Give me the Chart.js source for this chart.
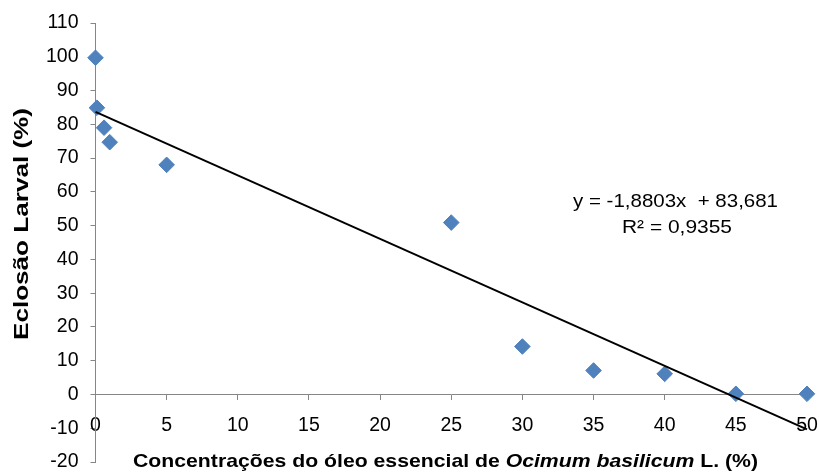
<!DOCTYPE html>
<html>
<head>
<meta charset="utf-8">
<script src="https://cdn.jsdelivr.net/npm/chart.js@4"></script>
<style>
  html, body { margin: 0; padding: 0; background: #fff; }
  #wrap { width: 819px; height: 475px; }
</style>
</head>
<body>
<div id="wrap"><canvas id="myChart"></canvas></div>
<script>
// concentration (%) and larval hatching (%)
const concentracoes = [0, 0.1, 0.6, 1, 5, 25, 30, 35, 40, 45, 50];
const eclosao = [99.7, 84.9, 79, 74.7, 68, 50.9, 14.2, 7.1, 6.1, 0.2, 0.2];

// trendline from the equation shown on the chart
const slope = -1.8803;
const intercept = 83.681;
const trendX = [0, 50];

const xTicks = [0, 5, 10, 15, 20, 25, 30, 35, 40, 45, 50];
const yTicks = [-20, -10, 0, 10, 20, 30, 40, 50, 60, 70, 80, 90, 100, 110];

const FONT = '"Liberation Sans", Arial, sans-serif';
const AXIS_GRAY = '#868686';

const points = concentracoes.map((x, i) => ({ x: x, y: eclosao[i] }));
const trend = trendX.map(x => ({ x: x, y: slope * x + intercept }));

// draw text (possibly in styled parts) stretched to a given width
function drawFitted(ctx, parts, cx, cy, target, rotation) {
  let total = 0;
  parts.forEach(p => { ctx.font = p.font; p.w = ctx.measureText(p.text).width; total += p.w; });
  const sx = target / total;
  ctx.save();
  ctx.translate(cx, cy);
  if (rotation) ctx.rotate(rotation);
  ctx.scale(sx, 1);
  ctx.fillStyle = '#000';
  ctx.textBaseline = 'middle';
  ctx.textAlign = 'left';
  let x = -total / 2;
  parts.forEach(p => { ctx.font = p.font; ctx.fillText(p.text, x, 0); x += p.w; });
  ctx.restore();
}

const labelsPlugin = {
  id: 'labels',
  afterDraw(chart) {
    const ctx = chart.ctx;
    drawFitted(ctx, [{ text: 'Eclosão Larval (%)', font: 'bold 21px ' + FONT }], 22, 224, 232, -Math.PI / 2);
    drawFitted(ctx, [
      { text: 'Concentrações do óleo essencial de ', font: 'bold 19px ' + FONT },
      { text: 'Ocimum basilicum', font: 'italic bold 19px ' + FONT },
      { text: ' L. (%)', font: 'bold 19px ' + FONT }
    ], 445.5, 462, 625);
    drawFitted(ctx, [{ text: 'y = -1,8803x  + 83,681', font: '19px ' + FONT }], 675.5, 202, 205);
    drawFitted(ctx, [{ text: 'R² = 0,9355', font: '19px ' + FONT }], 677, 228, 110);
  }
};

const noPad = s => { s.paddingLeft = 0; s.paddingRight = 0; s.paddingTop = 0; s.paddingBottom = 0; };

new Chart(document.getElementById('myChart'), {
  type: 'scatter',
  data: {
    datasets: [
      {
        label: 'Linear',
        type: 'line',
        data: trend,
        borderColor: '#000',
        borderWidth: 2,
        pointRadius: 0,
        fill: false,
        clip: false
      },
      {
        label: 'Eclosão',
        data: points,
        pointStyle: 'rectRot',
        pointRadius: 7.8,
        backgroundColor: '#4F81BD',
        borderColor: '#4F81BD',
        borderWidth: 1,
        clip: false
      }
    ]
  },
  options: {
    responsive: true,
    maintainAspectRatio: false,
    animation: false,
    layout: { padding: { top: 23, right: 12, bottom: 13, left: 0 } },
    plugins: { legend: { display: false }, tooltip: { enabled: false } },
    scales: {
      x: {
        type: 'linear',
        position: { y: 0 },
        min: 0,
        max: 50,
        afterBuildTicks: s => { s.ticks = xTicks.map(v => ({ value: v })); },
        afterFit: noPad,
        ticks: { font: { family: FONT, size: 19.5 }, color: '#000', padding: 14 },
        grid: { drawOnChartArea: false, tickLength: 5, color: AXIS_GRAY },
        border: { color: AXIS_GRAY, width: 1 }
      },
      y: {
        type: 'linear',
        min: -20,
        max: 110,
        afterBuildTicks: s => { s.ticks = yTicks.map(v => ({ value: v })); },
        afterFit: s => { s.width = 95.5; noPad(s); },
        ticks: { font: { family: FONT, size: 19.5 }, color: '#000', padding: 12 },
        grid: { drawOnChartArea: false, tickLength: 5, color: AXIS_GRAY },
        border: { color: AXIS_GRAY, width: 1 }
      }
    }
  },
  plugins: [labelsPlugin]
});
</script>
</body>
</html>
